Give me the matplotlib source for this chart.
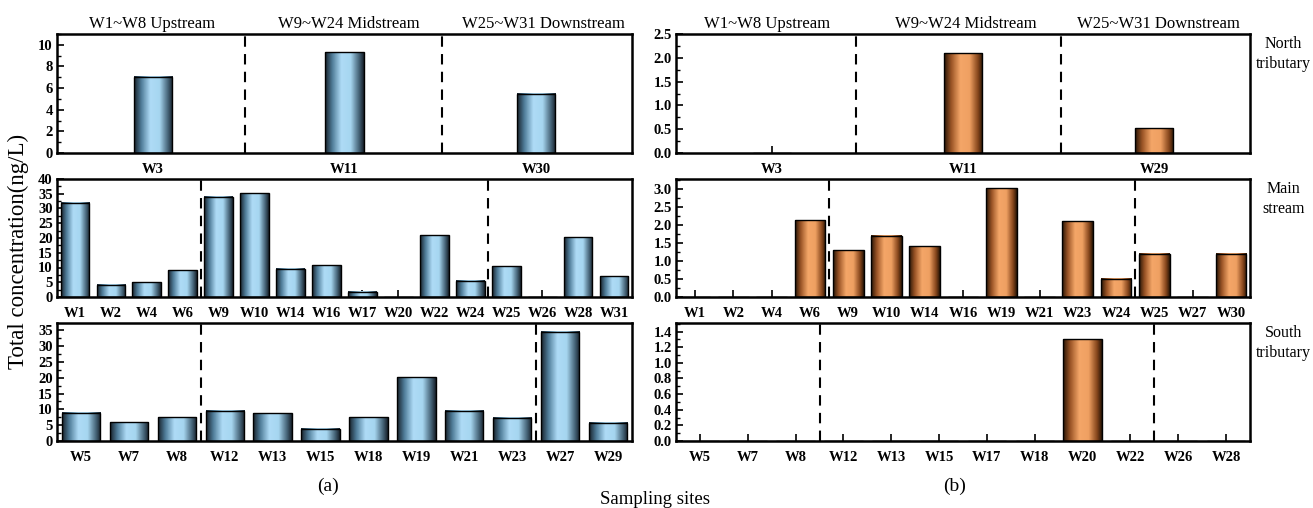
import matplotlib
matplotlib.use("Agg")
import matplotlib.pyplot as plt
import numpy as np
from matplotlib.colors import LinearSegmentedColormap
from matplotlib.ticker import AutoMinorLocator, MultipleLocator

plt.rcParams['font.family'] = ['Liberation Serif', 'DejaVu Serif']

# ---- data: panel (a) ----
a_north_sites = ["W3", "W11", "W30"]
a_north_vals = [7.05, 9.3, 5.5]
a_main_sites = ["W1", "W2", "W4", "W6", "W9", "W10", "W14", "W16",
                "W17", "W20", "W22", "W24", "W25", "W26", "W28", "W31"]
a_main_vals = [32, 4.2, 5.0, 9.0, 34, 35.2, 9.5, 10.7,
               1.8, 0, 21, 5.5, 10.5, 0, 20.3, 7.0]
a_south_sites = ["W5", "W7", "W8", "W12", "W13", "W15", "W18", "W19",
                 "W21", "W23", "W27", "W29"]
a_south_vals = [9.0, 6.0, 7.5, 9.5, 8.7, 3.8, 7.5, 20.1, 9.5, 7.3, 34.6, 5.8]

# ---- data: panel (b) ----
b_north_sites = ["W3", "W11", "W29"]
b_north_vals = [0, 2.1, 0.52]
b_main_sites = ["W1", "W2", "W4", "W6", "W9", "W10", "W14", "W16",
                "W19", "W21", "W23", "W24", "W25", "W27", "W30"]
b_main_vals = [0, 0, 0, 2.12, 1.3, 1.7, 1.4, 0, 3.02, 0, 2.1, 0.5, 1.2, 0, 1.2]
b_south_sites = ["W5", "W7", "W8", "W12", "W13", "W15", "W17", "W18",
                 "W20", "W22", "W26", "W28"]
b_south_vals = [0, 0, 0, 0, 0, 0, 0, 0, 1.3, 0, 0, 0]

zone_titles = ["W1~W8 Upstream", "W9~W24 Midstream", "W25~W31 Downstream"]
row_names = ["North\ntributary", "Main\nstream", "South\ntributary"]

blue = LinearSegmentedColormap.from_list("blue", [
    (0.0, "#18222c"), (0.18, "#4f7c98"), (0.42, "#aedbf6"),
    (0.66, "#a6d6f0"), (0.88, "#466478"), (1.0, "#18222c")])
orange = LinearSegmentedColormap.from_list("orange", [
    (0.0, "#2a1606"), (0.18, "#9a5426"), (0.42, "#f4a668"),
    (0.66, "#efa062"), (0.88, "#86461c"), (1.0, "#2a1606")])

fig = plt.figure(figsize=(13.13, 5.08), dpi=100)

W, H = 1313, 508
def box(x0, x1, y0, y1):
    return [x0 / W, 1 - y1 / H, (x1 - x0) / W, (y1 - y0) / H]

rows_y = [(34, 153), (179, 297), (323, 441)]
cols_x = [(57, 632), (676, 1250)]


def draw(ax, sites, vals, cmap, width, ylim, major, dividers):
    x = np.arange(len(sites))
    bars = ax.bar(x, vals, width, color="none", edgecolor="black",
                  linewidth=1.0, zorder=3)
    grad = np.linspace(0, 1, 64).reshape(1, -1)
    for b in bars:
        h = b.get_height()
        if h <= 0:
            continue
        ax.imshow(grad, cmap=cmap, aspect="auto", zorder=2,
                  extent=(b.get_x(), b.get_x() + b.get_width(), 0, h))
    for d in dividers:
        ax.axvline(d, color="black", lw=1.5, ls=(0, (5, 3.5)), zorder=4)
    ax.set_xlim(-0.5, len(sites) - 0.5)
    ax.set_ylim(*ylim)
    ax.set_xticks(x)
    ax.set_xticklabels(sites, fontweight="bold", fontsize=10.5)
    ax.yaxis.set_major_locator(MultipleLocator(major))
    ax.yaxis.set_minor_locator(AutoMinorLocator(2))
    ax.tick_params(axis="x", direction="in", length=5, width=1.2, pad=7,
                   bottom=True, top=False)
    ax.tick_params(axis="y", which="major", direction="in", length=5,
                   width=1.2, pad=3, labelsize=10.5)
    ax.tick_params(axis="y", which="minor", direction="in", length=3,
                   width=1.0)
    for lab in ax.get_yticklabels():
        lab.set_fontweight("bold")
    for s in ax.spines.values():
        s.set_linewidth(1.8)


panels = [
    [(a_north_sites, a_north_vals, 0.2, (0, 11), 2, [0.48, 1.51]),
     (a_main_sites, a_main_vals, 0.8, (0, 40), 5, [3.5, 11.5]),
     (a_south_sites, a_south_vals, 0.8, (0, 37.3), 5, [2.5, 9.5])],
    [(b_north_sites, b_north_vals, 0.2, (0, 2.5), 0.5, [0.44, 1.51]),
     (b_main_sites, b_main_vals, 0.8, (0, 3.27), 0.5, [3.5, 11.5]),
     (b_south_sites, b_south_vals, 0.8, (0, 1.51), 0.2, [2.5, 9.5])],
]
title_pos = [[0.165, 0.507, 0.846], [0.159, 0.505, 0.840]]

for c, (cx, cmap) in enumerate(zip(cols_x, [blue, orange])):
    for r, ry in enumerate(rows_y):
        ax = fig.add_axes(box(cx[0], cx[1], ry[0], ry[1]))
        sites, vals, w, ylim, major, divs = panels[c][r]
        draw(ax, sites, vals, cmap, w, ylim, major, divs)
        if c == 1:
            ax.yaxis.set_major_formatter(plt.FormatStrFormatter("%.1f"))
            for lab in ax.get_yticklabels():
                lab.set_fontweight("bold")
            ax.text(1.058, 0.83, row_names[r], transform=ax.transAxes,
                    ha="center", va="center", fontsize=11.5, linespacing=1.3)
        if r == 0:
            for t, xp in zip(zone_titles, title_pos[c]):
                ax.text(xp, 1.085, t, transform=ax.transAxes, ha="center",
                        va="center", fontsize=12)

fig.text(18 / W, 1 - 251 / H, "Total concentration(ng/L)", rotation=90,
         ha="center", va="center", fontsize=16.5)
fig.text(328 / W, 1 - 486 / H, "(a)", ha="center", va="center", fontsize=14)
fig.text(955 / W, 1 - 486 / H, "(b)", ha="center", va="center", fontsize=14)
fig.text(655 / W, 1 - 500 / H, "Sampling sites", ha="center", va="center",
         fontsize=13.5)

fig.savefig("out.png", dpi=100)
